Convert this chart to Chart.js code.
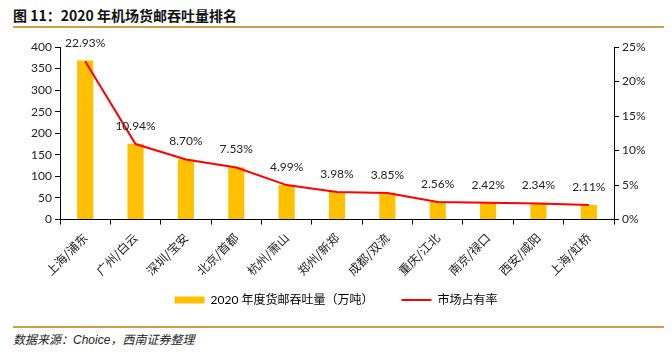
<!DOCTYPE html>
<html><head><meta charset="utf-8">
<script src="https://cdn.jsdelivr.net/npm/chart.js@4/dist/chart.umd.min.js"></script>
<style>
html,body{margin:0;padding:0;background:#fff;width:672px;height:357px;overflow:hidden;position:relative;font-family:"Noto Sans CJK SC","Noto Sans",sans-serif;}
#title{position:absolute;left:13px;top:5px;font-size:14px;font-weight:bold;color:#111;white-space:nowrap;}
#line1{position:absolute;left:13px;top:26px;width:651px;height:2px;background:#CF9F45;}
#line2{position:absolute;left:13px;top:326px;width:651px;height:2px;background:#CF9F45;}
#src{position:absolute;left:13px;top:330px;font-size:12px;font-style:italic;color:#222;white-space:nowrap;}
#wrap{position:absolute;left:0;top:30px;width:672px;height:290px;}
</style></head>
<body>
<div id="title">图 11：2020 年机场货邮吞吐量排名</div>
<div id="line1"></div>
<div id="wrap"><canvas id="c"></canvas></div>
<div id="line2"></div>
<div id="src">数据来源：<span style="font-family:'Liberation Sans',sans-serif">Choice</span>，西南证券整理</div>
<script>
const categories = ["上海/浦东","广州/白云","深圳/宝安","北京/首都","杭州/萧山","郑州/新郑","成都/双流","重庆/江北","南京/禄口","西安/咸阳","上海/虹桥"];
const volume = [368.7,175.9,139.9,121.0,80.2,63.9,61.9,41.1,38.9,37.6,33.8];
const share = [22.93,10.94,8.70,7.53,4.99,3.98,3.85,2.56,2.42,2.34,2.11];
const leftTicks = [0,50,100,150,200,250,300,350,400];
const rightTicks = [0,5,10,15,20,25];
const seriesNames = ['2020 年度货邮吞吐量（万吨）','市场占有率'];

const labelPlugin = {
  id:'labels',
  afterDatasetsDraw(chart){
    const meta = chart.getDatasetMeta(1);
    const ctx = chart.ctx;
    ctx.save();
    ctx.font = '12px Lato, "Noto Sans", sans-serif';
    ctx.fillStyle = '#222';
    ctx.textAlign = 'center';
    ctx.textBaseline = 'middle';
    meta.data.forEach((p,i)=>{
      ctx.fillText(share[i].toFixed(2)+'%', p.x, p.y-18);
    });
    ctx.restore();
  }
};

new Chart(document.getElementById('c'),{
  data:{
    labels:categories,
    datasets:[
      {type:'bar',label:seriesNames[0],data:volume,backgroundColor:'#FFC000',borderWidth:0,yAxisID:'y',barPercentage:0.32,categoryPercentage:1,order:2},
      {type:'line',label:seriesNames[1],data:share,borderColor:'#FF0000',backgroundColor:'#FF0000',borderWidth:2,pointRadius:0,tension:0,yAxisID:'y1',order:1}
    ]
  },
  options:{
    responsive:true,maintainAspectRatio:false,animation:false,
    layout:{padding:{top:17,left:0,right:0,bottom:4}},
    plugins:{
      tooltip:{enabled:false},
      legend:{position:'bottom',
        labels:{font:{size:12,family:'Lato, "Noto Sans CJK SC", sans-serif'},color:'#111',usePointStyle:true,pointStyleWidth:30,boxWidth:30,boxHeight:7,padding:10,
          generateLabels(chart){
            return [
              {text:seriesNames[0]+'\u3000\u3000',fillStyle:'#FFC000',strokeStyle:'#FFC000',lineWidth:0,pointStyle:'rect',datasetIndex:0},
              {text:seriesNames[1],fillStyle:'#FF0000',strokeStyle:'#FF0000',lineWidth:2,pointStyle:'line',datasetIndex:1}
            ];
          }
        }
      }
    },
    scales:{
      x:{offset:true,
        grid:{display:true,drawOnChartArea:false,offset:true,tickLength:5,color:'#000'},
        border:{color:'#000',width:1},
        ticks:{minRotation:45,maxRotation:45,color:'#222',font:{size:12,family:'"Noto Sans CJK SC", sans-serif'},padding:6}
      },
      y:{position:'left',min:0,max:400,
        afterBuildTicks(s){s.ticks=leftTicks.map(v=>({value:v}));},
        afterFit(s){s.width=60;},
        grid:{drawOnChartArea:false,tickLength:5,color:'#000'},
        border:{color:'#000',width:1},
        ticks:{color:'#222',font:{size:12,family:'Lato, sans-serif'},padding:3}
      },
      y1:{position:'right',min:0,max:25,
        afterBuildTicks(s){s.ticks=rightTicks.map(v=>({value:v}));},
        afterFit(s){s.width=58;},
        grid:{drawOnChartArea:false,tickLength:5,color:'#000'},
        border:{color:'#000',width:1},
        ticks:{color:'#222',font:{size:12,family:'Lato, sans-serif'},padding:3,callback:v=>v+'%'}
      }
    }
  },
  plugins:[labelPlugin]
});
</script>
</body></html>
